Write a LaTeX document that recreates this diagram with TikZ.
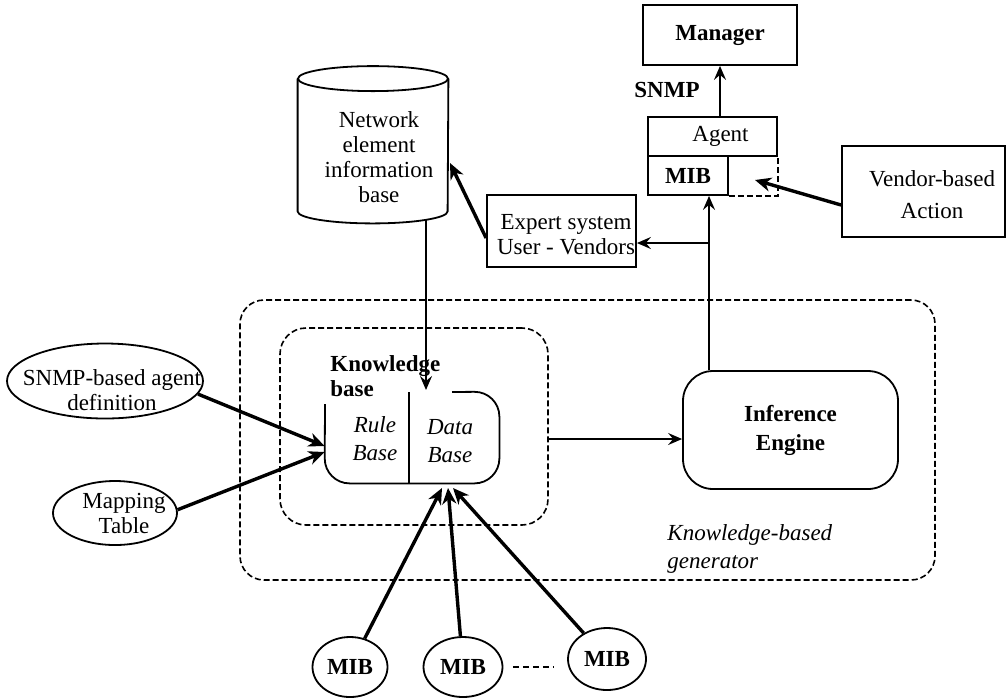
\documentclass[tikz,border=0pt]{standalone}
\usepackage{fontspec}
\setmainfont{Liberation Serif}
\usetikzlibrary{arrows.meta,shapes.geometric}
\begin{document}
\begin{tikzpicture}[x=0.5pt,y=-0.5pt,
  every node/.style={font=\fontsize{11.5}{12.5}\selectfont},
  box/.style={draw, line width=0.9pt, inner sep=0pt, align=center},
  ell/.style={draw, ellipse, line width=0.9pt, inner sep=0pt},
  frame/.style={draw, dash pattern=on 3pt off 1.5pt, line width=0.8pt},
  arr/.style={line width=0.9pt, -{Stealth[length=7pt,width=6pt,inset=2.5pt]}},
  tarr/.style={line width=1.7pt, -{Stealth[length=8pt,width=7pt,inset=2.5pt]}},
  lbl/.style={align=center, inner sep=0pt},
]
\fill[white] (0,0) rectangle (1006,698);
\useasboundingbox (0,0) rectangle (1006,698);

% --- manager / agent side ---
\node[box, minimum width=77pt, minimum height=30pt] (manager) at (720,35) {\bfseries Manager};
\node[lbl] (snmp) at (667,90) {\bfseries SNMP};
\node[box, minimum width=64.5pt, minimum height=19.5pt] (agent) at (712.5,136.5) {\hspace*{8pt}Agent};
\node[box, minimum width=40pt, minimum height=19.5pt] (mibA) at (688,175.5) {\bfseries MIB};
\draw[frame] (mibA.south east) -- (agent.south east |- mibA.south) -- (agent.south east);
\coordinate (mibslot) at (755,180);

\node[box, minimum width=81.5pt, minimum height=45.5pt] (vendor) at (923.5,191.5) {};
\node[lbl] (vendortxt) at (932,195) {Vendor-based\\[3.5pt]Action};

\node[box, minimum width=74.5pt, minimum height=36pt] (expert) at (561.5,231) {};
\node[lbl] (experttxt) at (566,235) {Expert system\\User - Vendors};

% --- network element information base (cylinder) ---
\node[minimum width=75pt, minimum height=66pt, inner sep=0pt] (neib) at (373,145) {};
\draw[line width=0.9pt] (neib.north west) -- (neib.south west)
  arc[start angle=180, end angle=360, x radius=37.5pt, y radius=6pt] -- (neib.north east);
\draw[line width=0.9pt] (neib.north) ellipse[x radius=37.5pt, y radius=6.25pt];
\node[lbl] (neibtxt) at (379,157) {Network\\element\\information\\base};
\coordinate (neibout) at (426,220);
\coordinate (cyltip) at (450,163);

% --- knowledge-based generator ---
\node[frame, rounded corners=12pt, minimum width=347.5pt, minimum height=140pt, inner sep=0pt] (gen) at (587.5,440) {};
\node[frame, rounded corners=13pt, minimum width=134pt, minimum height=98.5pt, inner sep=0pt] (kbframe) at (414,426.5) {};
\node[lbl, align=left, anchor=west] (kblabel) at (330,376) {\bfseries Knowledge\\\bfseries base};

\node[minimum width=87pt, minimum height=45.5pt, inner sep=0pt] (kb) at (412,437.5) {};
\draw[line width=0.9pt, rounded corners=12.5pt] (452,392) -- (kb.north east) -- (kb.south east)
  -- (kb.south west) -- (325,404);
\draw[line width=0.9pt] (409,392) -- (409,483);
\node[lbl] (rule) at (375,439) {\itshape Rule\\[1.5pt]\itshape Base};
\node[lbl] (data) at (450,441) {\itshape Data\\[1.5pt]\itshape Base};
\coordinate (dbtop) at (426,390);

\node[box, rounded corners=15pt, minimum width=107.5pt, minimum height=59pt] (infer) at (790.5,430)
  {\bfseries Inference\\[2pt]\bfseries Engine};
\node[lbl, align=left, anchor=west] (genlabel) at (667,549) {\itshape Knowledge-based\\[1.5pt]\itshape generator};

% --- inputs ---
\node[ell, minimum width=98pt, minimum height=37.5pt] (snmpdef) at (105,381) {};
\node[lbl] (snmpdeftxt) at (112,390) {SNMP-based agent\\definition};
\node[ell, minimum width=62pt, minimum height=32pt] (maptab) at (115,513) {};
\node[lbl] (maptabtxt) at (124,513) {Mapping\\Table};

\node[ell, minimum width=37.5pt, minimum height=30pt] (mib1) at (350,667) {\bfseries MIB};
\node[ell, minimum width=39.5pt, minimum height=30pt] (mib2) at (463,667) {\bfseries MIB};
\node[ell, minimum width=39pt, minimum height=31pt] (mib3) at (607,659) {\bfseries MIB};
\draw[dash pattern=on 3pt off 2pt, line width=0.7pt] ([xshift=4.75pt]mib2.east) -- ([xshift=-6.5pt]mib3.west |- mib2.east);
\coordinate (db1) at (442,488);
\coordinate (db2) at (448,488);
\coordinate (db3) at (453,488);

% --- connectors ---
\coordinate (tap) at (709,243);
\draw[arr] (agent.north -| manager.south) -- (manager.south);
\draw[arr] (infer.north -| tap) -- (mibA.south -| tap);
\draw[arr] (tap) -- (tap -| expert.east);
\draw[arr] (neibout) -- (dbtop);
\draw[arr] ([yshift=-6.25pt]kbframe.east) -- ([yshift=-6.25pt]kbframe.east -| infer.west);
\draw[tarr] ([yshift=-6.75pt]vendor.west) -- (mibslot);
\draw[tarr] ([yshift=-3.5pt]expert.west) -- (cyltip);
\draw[tarr] (snmpdef.-8) -- ([yshift=-4.25pt]kb.west);
\draw[tarr] (maptab.3) -- ([yshift=-7.25pt]kb.west);
\draw[tarr] (mib1) -- (db1);
\draw[tarr] (mib2) -- (db2);
\draw[tarr] (mib3) -- (db3);
\end{tikzpicture}
\end{document}
